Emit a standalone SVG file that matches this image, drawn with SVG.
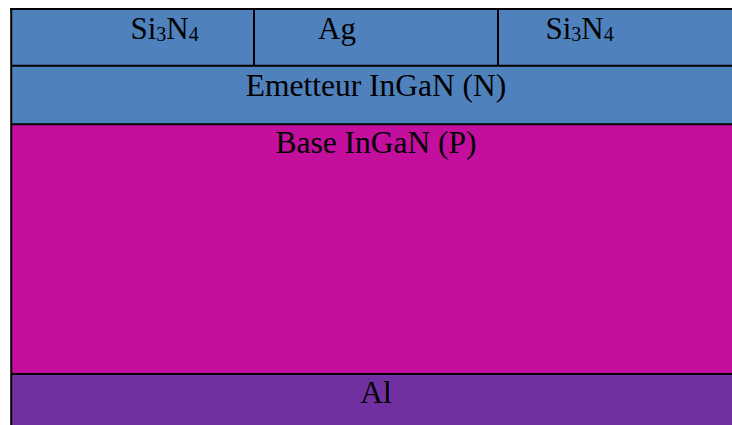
<svg xmlns="http://www.w3.org/2000/svg" width="732" height="425" viewBox="0 0 732 425">
  <style>
    .lbl { font-family: "Liberation Serif", "Times New Roman", serif; font-size: 31.5px; fill: #000; }
    .sub { font-size: 20px; }
    .ln { stroke: #000; stroke-width: 2; fill: none; }
  </style>
  <rect width="732" height="425" fill="#fff"/>
  <g id="top-si3n4-left">
    <rect x="11" y="9" width="243" height="57" fill="#4F81BD"/>
    <text class="lbl" x="130.5" y="39.3" style="font-size:31px">Si<tspan class="sub" dy="2">3</tspan><tspan dy="-2">N</tspan><tspan class="sub" dy="2">4</tspan></text>
  </g>
  <g id="top-ag">
    <rect x="254" y="9" width="244" height="57" fill="#4F81BD"/>
    <text class="lbl" x="318" y="39.3" style="font-size:31px">Ag</text>
  </g>
  <g id="top-si3n4-right">
    <rect x="498" y="9" width="234" height="57" fill="#4F81BD"/>
    <text class="lbl" x="545.5" y="39.3" style="font-size:31px">Si<tspan class="sub" dy="2">3</tspan><tspan dy="-2">N</tspan><tspan class="sub" dy="2">4</tspan></text>
  </g>
  <g id="emetteur">
    <rect x="11" y="66" width="721" height="58" fill="#4F81BD"/>
    <text class="lbl" x="376" y="95.7" text-anchor="middle">Emetteur InGaN (N)</text>
  </g>
  <g id="base">
    <rect x="11" y="124" width="721" height="250" fill="#C40E9E"/>
    <text class="lbl" x="376" y="152.7" text-anchor="middle">Base InGaN (P)</text>
  </g>
  <g id="al">
    <rect x="11" y="374" width="721" height="51" fill="#7030A0"/>
    <text class="lbl" x="376" y="402.7" text-anchor="middle">Al</text>
  </g>
  <g id="borders">
    <line class="ln" x1="10" y1="9" x2="732" y2="9"/>
    <line class="ln" x1="11.2" y1="8" x2="11.2" y2="425"/>
    <line class="ln" x1="11" y1="65.8" x2="732" y2="65.8"/>
    <line class="ln" x1="11" y1="124.2" x2="732" y2="124.2"/>
    <line class="ln" x1="11" y1="374" x2="732" y2="374"/>
    <line class="ln" x1="254" y1="9" x2="254" y2="66"/>
    <line class="ln" x1="498" y1="9" x2="498" y2="66"/>
  </g>
</svg>
